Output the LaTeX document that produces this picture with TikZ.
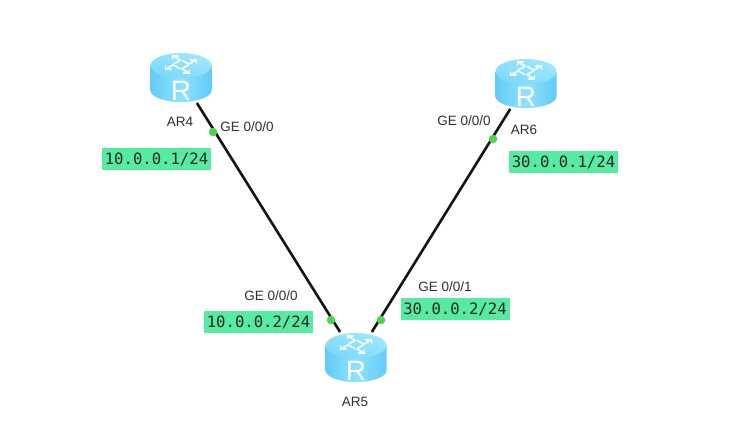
\documentclass[tikz,border=0pt]{standalone}
\usepackage{fontspec}
\setmainfont{Liberation Sans}
\newfontfamily\labelmono{DejaVu Sans Mono}
\definecolor{ipgreen}{HTML}{55EBA0}
\definecolor{dotgreen}{HTML}{4CD44C}
\definecolor{rA}{HTML}{62CBF7}
\definecolor{rB}{HTML}{8FE2FF}
\definecolor{rC}{HTML}{9FE8FF}
\definecolor{rD}{HTML}{7CD8FC}
\definecolor{txt}{HTML}{303030}
\tikzset{
  x=1pt,y=-1pt,
  routerbox/.style={minimum width=61pt,minimum height=51pt,inner sep=0pt,outer sep=0pt},
  link/.style={line width=2.6pt,draw=black!92},
  portdot/.style={circle,fill=dotgreen,minimum size=8.5pt,inner sep=0pt},
  iplabel/.style={fill=ipgreen,minimum width=109pt,minimum height=22pt,inner sep=0pt,font=\labelmono\fontsize{15.6}{16}\selectfont,text=black!85},
  txtlabel/.style={inner sep=0pt,font=\fontsize{13.5}{15}\selectfont,text=txt},
  harrow/.style={draw=white,line width=1.7pt,line cap=round,line join=round,opacity=0.9},
  router/.pic={
    \shade[left color=rA,right color=rA,middle color=rB]
      (-30.5,-12) -- (-30.5,13) arc[start angle=180,end angle=360,x radius=30.5,y radius=-11.5] -- (30.5,-12) -- cycle;
    \shade[bottom color=rD,top color=rC,shading angle=-20]
      (0,-12) ellipse[x radius=30.5,y radius=12.5];
    \foreach \a in {45,135,225,315}{
      \begin{scope}[shift={(0,-13)},yscale=0.55,rotate=\a]
        \draw[harrow] (6,-4) -- (6,5) -- (17,5);
        \draw[harrow] (13,1) -- (17,5) -- (13,9);
      \end{scope}
    }
    \node[text=white,inner sep=0pt,font=\fontsize{28}{28}\selectfont] at (0,13) {R};
  }
}
\begin{document}
\begin{tikzpicture}
\useasboundingbox (0,0) rectangle (742,429);
\fill[white] (0,0) rectangle (742,429);
\node[routerbox] (ar4) at (181,77.5) {};
\node[routerbox] (ar6) at (526,83.5) {};
\node[routerbox] (ar5) at (356,357.5) {};
\draw[link] (ar4) -- (ar5);
\draw[link] (ar6) -- (ar5);
\pic at (ar4) {router};
\pic at (ar6) {router};
\pic at (ar5) {router};
\node[portdot] (d4) at (213,132) {};
\node[portdot] (d6) at (493,139) {};
\node[portdot] (d5l) at (331,320) {};
\node[portdot] (d5r) at (381,320) {};
\node[txtlabel] (n4) at (180,122) {AR4};
\node[txtlabel] (n6) at (524,130) {AR6};
\node[txtlabel] (n5) at (355,402) {AR5};
\node[txtlabel] (g4) at (247,127) {GE 0/0/0};
\node[txtlabel] (g6) at (464,121) {GE 0/0/0};
\node[txtlabel] (g5l) at (271,296) {GE 0/0/0};
\node[txtlabel] (g5r) at (445,287) {GE 0/0/1};
\node[iplabel] (ip1) at (156.5,159) {10.0.0.1/24};
\node[iplabel] (ip2) at (258.5,322) {10.0.0.2/24};
\node[iplabel] (ip3) at (455,309) {30.0.0.2/24};
\node[iplabel] (ip4) at (563.5,162) {30.0.0.1/24};
\end{tikzpicture}
\end{document}
